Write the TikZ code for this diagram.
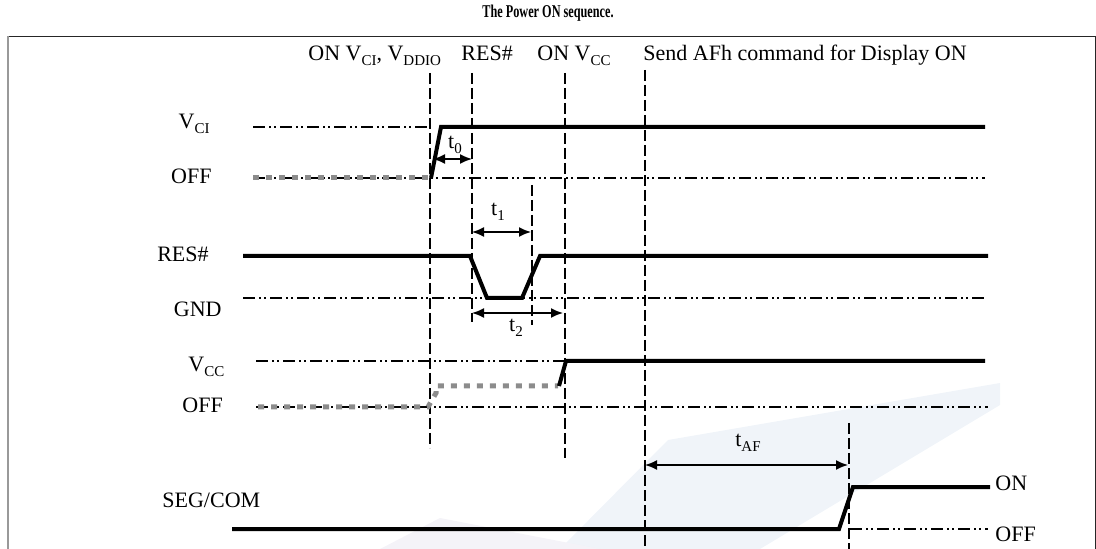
\documentclass[tikz,border=0pt]{standalone}
\usepackage{fontspec}
\setmainfont{Liberation Serif}
\usetikzlibrary{arrows.meta}
\newcommand\sbs[1]{\raisebox{-0.45ex}{\fontsize{7.5}{8}\selectfont #1}}
\definecolor{wmA}{RGB}{240,244,249}
\definecolor{wmB}{RGB}{244,243,248}
\begin{document}
\begin{tikzpicture}[x=0.5pt,y=-0.5pt,
 sig/.style={line width=2pt, line join=miter},
 refl/.style={line width=0.75pt, dash pattern=on 6pt off 2pt on 1pt off 1.5pt on 1pt off 2pt},
 gline/.style={line width=2.5pt, black!45, dash pattern=on 3pt off 3.5pt},
 vthick/.style={line width=1.3pt, dash pattern=on 5.5pt off 2pt},
 vthin/.style={line width=0.7pt, dash pattern=on 5.5pt off 2pt},
 dim/.style={line width=0.8pt, {Latex[length=6pt,width=5pt]}-{Latex[length=6pt,width=5pt]}},
 lbl/.style={font=\fontsize{11}{13}\selectfont, inner sep=0pt},
]
\useasboundingbox (0,0) rectangle (1096,549);
% watermark
\fill[wmA] (560,549) -- (668,440) -- (1000,383) -- (1000,405) -- (760,549) -- cycle;
\fill[wmB] (380,549) -- (440,518) -- (600,549) -- cycle;
% frame
\draw[line width=0.5pt, black!85] (8,37) -- (1095,37) -- (1095,549);
\draw[line width=1pt, black!40] (7.5,36) -- (7.5,549);
% title
\node[font=\bfseries\fontsize{9}{11}\selectfont, inner sep=0pt] (title) at (548,13) {\scalebox{0.68}[1]{The Power ON sequence.}};
% reference lines
\draw[refl] (253,127) -- (430,127);
\draw[refl] (253,178) -- (985,178);
\draw[refl] (243,298) -- (988,298);
\draw[refl] (256,361) -- (566,361);
\draw[refl] (256,407) -- (988,407);
\draw[refl] (850,529) -- (988,529);
% vertical markers
\draw[vthick] (430,73) -- (430,448);
\draw[vthin] (472,73) -- (472,322);
\draw[vthin] (532,185) -- (532,325);
\draw[vthick] (565,73) -- (565,458);
\draw[vthin] (645,70) -- (645,549);
\draw[vthin] (849,423) -- (849,549);
% gray (off) traces
\draw[gline] (253,178) -- (428,178);
\draw[gline] (258,407) -- (428,407) -- (436,393) -- (436,386) -- (558,386);
% signals
\draw[sig] (431,178) -- (441,127) -- (985,127);
\draw[sig] (243,256) -- (470,256) -- (487,298) -- (522,298) -- (540,256) -- (988,256);
\draw[sig] (559,386) -- (566,361) -- (985,361);
\draw[sig] (232,529) -- (839,529) -- (853,487) -- (990,487);
% dimension arrows
\draw[dim] (433,159) -- (472,159);
\draw[dim] (472,232) -- (531,232);
\draw[dim] (472,313) -- (563,313);
\draw[dim] (645,465) -- (848,465);
\node[lbl] (t0) at (455,145) {t\sbs{0}};
\node[lbl] (t1) at (498,212) {t\sbs{1}};
\node[lbl] (t2) at (516,328) {t\sbs{2}};
\node[lbl] (tAF) at (748,443) {t\sbs{AF}};
% top labels
\node[lbl, anchor=base west] (lon1) at (308,61) {ON V\sbs{CI}, V\sbs{DDIO}};
\node[lbl, anchor=base west] (lres) at (461,61) {RES\#};
\node[lbl, anchor=base west] (lon2) at (537,61) {ON V\sbs{CC}};
\node[lbl, anchor=base west] (lsend) at (643,61) {Send AFh command for Display ON};
% left labels
\node[lbl, anchor=base east] (vci) at (210,129) {V\sbs{CI}};
\node[lbl, anchor=base east] (off1) at (212,184) {OFF};
\node[lbl, anchor=base east] (res) at (209,262) {RES\#};
\node[lbl, anchor=base east] (gnd) at (222,317) {GND};
\node[lbl, anchor=base west] (vcc) at (188,372) {V\sbs{CC}};
\node[lbl, anchor=base west] (off2) at (182,413) {OFF};
\node[lbl, anchor=base west] (seg) at (162,507) {SEG/COM};
\node[lbl, anchor=base west] (on3) at (995,490) {ON};
\node[lbl, anchor=base west] (off3) at (995,541) {OFF};
\end{tikzpicture}
\end{document}
